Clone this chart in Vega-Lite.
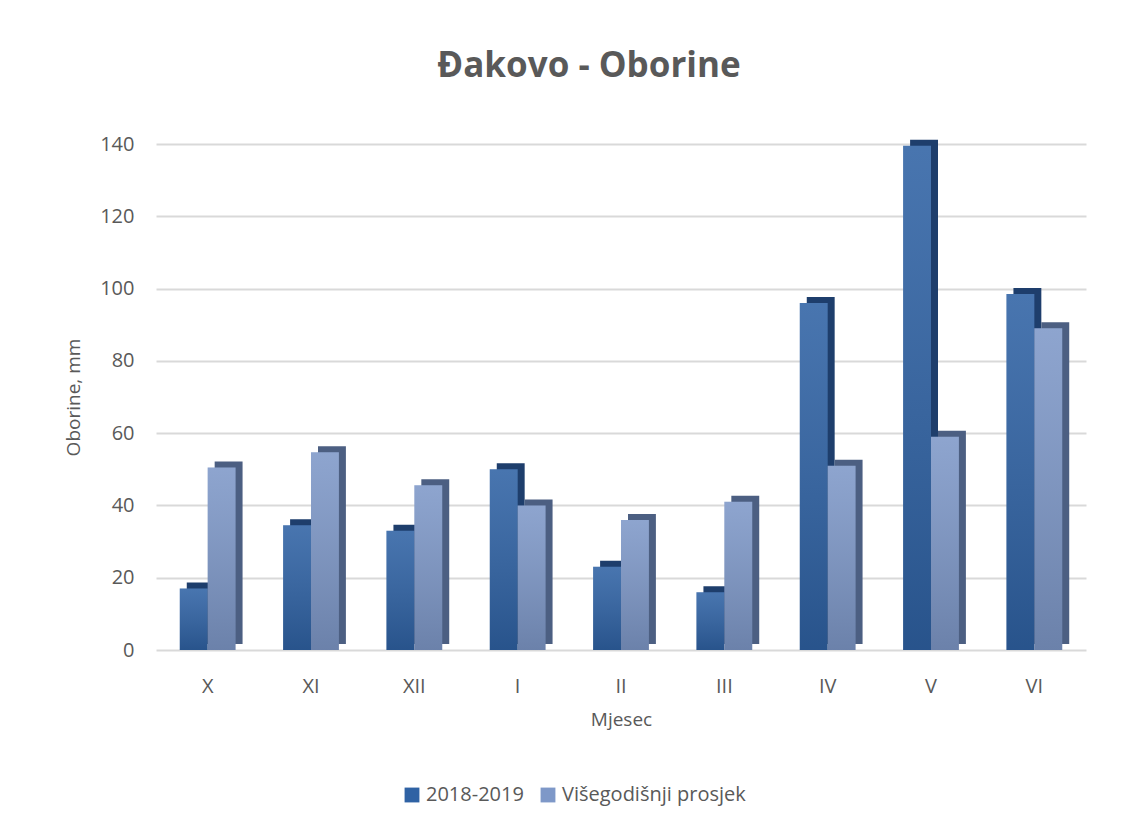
{
  "$schema": "https://vega.github.io/schema/vega-lite/v6.json",
  "autosize": {"type": "none"},
  "width": 930,
  "height": 506,
  "padding": {"left": 156, "top": 144, "right": 61, "bottom": 177},
  "background": "white",
  "title": {
    "text": "Đakovo - Oborine",
    "fontSize": 35,
    "fontWeight": "bold",
    "font": "Open Sans",
    "color": "#595959",
    "anchor": "middle",
    "frame": "group",
    "offset": 50,
    "dx": -32
  },
  "data": {
    "values": [
      {"mjesec": "X", "serija": "2018-2019", "vrijednost": 17},
      {"mjesec": "X", "serija": "Višegodišnji prosjek", "vrijednost": 50.5},
      {"mjesec": "XI", "serija": "2018-2019", "vrijednost": 34.5},
      {"mjesec": "XI", "serija": "Višegodišnji prosjek", "vrijednost": 54.7},
      {"mjesec": "XII", "serija": "2018-2019", "vrijednost": 33},
      {"mjesec": "XII", "serija": "Višegodišnji prosjek", "vrijednost": 45.6},
      {"mjesec": "I", "serija": "2018-2019", "vrijednost": 50},
      {"mjesec": "I", "serija": "Višegodišnji prosjek", "vrijednost": 40},
      {"mjesec": "II", "serija": "2018-2019", "vrijednost": 23},
      {"mjesec": "II", "serija": "Višegodišnji prosjek", "vrijednost": 36},
      {"mjesec": "III", "serija": "2018-2019", "vrijednost": 16},
      {"mjesec": "III", "serija": "Višegodišnji prosjek", "vrijednost": 41},
      {"mjesec": "IV", "serija": "2018-2019", "vrijednost": 96},
      {"mjesec": "IV", "serija": "Višegodišnji prosjek", "vrijednost": 51},
      {"mjesec": "V", "serija": "2018-2019", "vrijednost": 139.5},
      {"mjesec": "V", "serija": "Višegodišnji prosjek", "vrijednost": 59},
      {"mjesec": "VI", "serija": "2018-2019", "vrijednost": 98.5},
      {"mjesec": "VI", "serija": "Višegodišnji prosjek", "vrijednost": 89}
    ]
  },
  "encoding": {
    "x": {
      "field": "mjesec",
      "type": "nominal",
      "sort": ["X", "XI", "XII", "I", "II", "III", "IV", "V", "VI"],
      "scale": {"paddingInner": 0.46, "paddingOuter": 0.23},
      "axis": {
        "title": "Mjesec",
        "labelAngle": 0,
        "domain": false,
        "ticks": false,
        "labelPadding": 26,
        "titlePadding": 14,
        "labelFontSize": 20,
        "titleFontSize": 19,
        "titleFontWeight": "normal",
        "labelColor": "#595959",
        "titleColor": "#595959",
        "labelFont": "Open Sans",
        "titleFont": "Open Sans"
      }
    },
    "y": {
      "field": "vrijednost",
      "type": "quantitative",
      "scale": {"domain": [0, 140], "nice": false},
      "axis": {
        "title": "Oborine, mm",
        "values": [0, 20, 40, 60, 80, 100, 120, 140],
        "domain": false,
        "ticks": false,
        "labelPadding": 22,
        "titlePadding": 16,
        "labelFontSize": 20,
        "titleFontSize": 19,
        "titleFontWeight": "normal",
        "labelColor": "#595959",
        "titleColor": "#595959",
        "labelFont": "Open Sans",
        "titleFont": "Open Sans",
        "gridColor": "#D9D9D9",
        "gridWidth": 2
      }
    }
  },
  "layer": [
    {
      "mark": {"type": "bar", "yOffset": -6},
      "encoding": {
        "xOffset": {"field": "serija", "type": "nominal", "scale": {"paddingInner": 0, "paddingOuter": 0, "range": [7, 62.8]}},
        "color": {
          "condition": {"test": "datum.serija === '2018-2019'", "value": "#1E3E6C"},
          "value": "#4C5F82"
        }
      }
    },
    {
      "mark": {"type": "bar"},
      "encoding": {
        "xOffset": {"field": "serija", "type": "nominal", "scale": {"paddingInner": 0, "paddingOuter": 0, "range": [0, 55.8]}},
        "color": {
          "field": "serija",
          "type": "nominal",
          "scale": {"domain": ["2018-2019", "Višegodišnji prosjek"], "range": ["#2F62A4", "#7E98C8"]},
          "legend": {
            "title": null,
            "orient": "none",
            "legendX": 246,
            "legendY": 641,
            "direction": "horizontal",
            "symbolType": "square",
            "symbolSize": 220,
            "symbolStrokeWidth": 0,
            "labelFontSize": 20,
            "labelFont": "Open Sans",
            "labelColor": "#595959",
            "labelLimit": 400,
            "columnPadding": 14,
            "labelOffset": 4
          }
        }
      }
    },
    {
      "mark": {
        "type": "bar",
        "color": {
          "x1": 0, "y1": 0, "x2": 0, "y2": 1,
          "gradient": "linear",
          "stops": [
            {"offset": 0, "color": "rgba(255,255,255,0.12)"},
            {"offset": 1, "color": "rgba(0,0,0,0.15)"}
          ]
        }
      },
      "encoding": {
        "xOffset": {"field": "serija", "type": "nominal", "scale": {"paddingInner": 0, "paddingOuter": 0, "range": [0, 55.8]}}
      }
    }
  ],
  "resolve": {"scale": {"xOffset": "independent"}},
  "config": {
    "view": {"stroke": null}
  }
}
